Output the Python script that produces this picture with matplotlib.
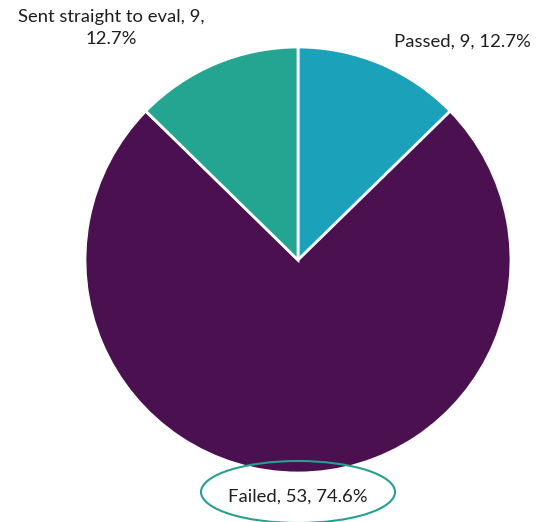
import matplotlib.pyplot as plt
from matplotlib.patches import Ellipse

labels = ['Passed', 'Failed', 'Sent straight to eval']
counts = [9, 53, 9]
colors = ['#1ba1b9', '#4a1050', '#24a592']

W, H = 538, 522
fig = plt.figure(figsize=(W / 100, H / 100), dpi=100)
ax = fig.add_axes([0, 0, 1, 1])

# pie in pixel units, y measured from the bottom
cx, cy, r = 298, H - 260, 213
ax.pie(counts, colors=colors, startangle=90, counterclock=False,
       center=(cx, cy), radius=r,
       wedgeprops=dict(edgecolor='white', linewidth=2))
ax.set_xlim(0, W)
ax.set_ylim(0, H)
ax.set_aspect('equal')
ax.axis('off')

total = sum(counts)
pct = [c / total * 100 for c in counts]
font = dict(family=['Lato', 'DejaVu Sans'], fontsize=13.3, color='#1e1e1e')

ax.text(462, H - 42, f'{labels[0]}, {counts[0]}, {pct[0]:.1f}%',
        ha='center', va='center', **font)
ax.text(111, H - 28, f'{labels[2]}, {counts[2]},\n{pct[2]:.1f}%',
        ha='center', va='center', linespacing=1.5, **font)
ax.text(298, H - 497, f'{labels[1]}, {counts[1]}, {pct[1]:.1f}%',
        ha='center', va='center', **font)

# highlight ring around the Failed label
ax.add_patch(Ellipse((298, H - 492), 194, 62, fill=False,
                     edgecolor='#26a08f', linewidth=1.5, clip_on=False))

fig.savefig('out.png', dpi=100)
